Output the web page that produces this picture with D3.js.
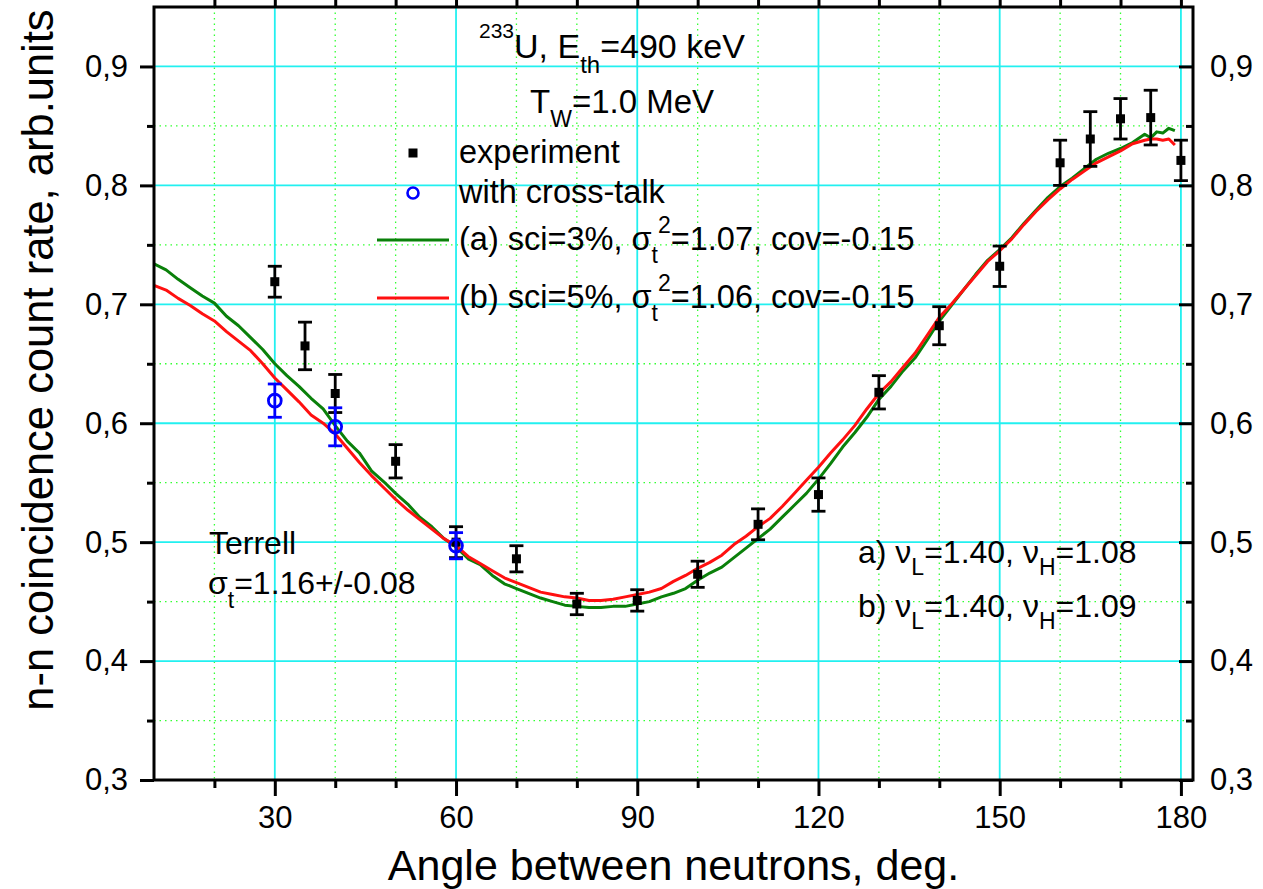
<!DOCTYPE html>
<html>
<head>
<meta charset="utf-8">
<script src="https://cdn.jsdelivr.net/npm/d3@7"></script>
<style>
  html, body { margin: 0; padding: 0; background: #fff; }
  svg { display: block; font-family: "Liberation Sans", Arial, sans-serif; }
</style>
</head>
<body>
<svg id="chart" width="1263" height="889"></svg>
<script>
// Measured n-n coincidence rates (black squares)
const expAngles = [30, 35, 40, 50, 60, 70, 80, 90, 100, 110, 120, 130, 140, 150, 160, 165, 170, 175, 180];
const expValues = [0.719, 0.665, 0.625, 0.568, 0.500, 0.486, 0.448, 0.451, 0.473, 0.515, 0.540, 0.626, 0.682, 0.732, 0.819, 0.839, 0.856, 0.857, 0.821];
const expErrors = [0.013, 0.020, 0.016, 0.014, 0.013, 0.011, 0.009, 0.009, 0.011, 0.013, 0.014, 0.014, 0.016, 0.017, 0.019, 0.023, 0.017, 0.023, 0.017];

// Points corrected for cross-talk (blue circles)
const ctAngles = [30, 40, 60];
const ctValues = [0.619, 0.597, 0.497];
const ctErrors = [0.014, 0.016, 0.011];

// Simulated curves: angle grid and the two model results
const simAngles = [10, 12, 14, 16, 18, 20, 22, 24, 26, 28, 30, 32, 34, 36, 38, 40, 42, 44, 46, 48,
  50, 52, 54, 56, 58, 60, 62, 64, 66, 68, 70, 72, 74, 76, 78, 80, 82, 84, 86, 88,
  90, 92, 94, 96, 98, 100, 102, 104, 106, 108, 110, 112, 114, 116, 118, 120, 122, 124, 126, 128,
  130, 132, 134, 136, 138, 140, 142, 144, 146, 148, 150, 152, 154, 156, 158, 160, 162, 164, 166, 168,
  170, 172, 174, 175, 176, 177, 178, 179];
const simA = [0.734, 0.729, 0.721, 0.714, 0.707, 0.701, 0.690, 0.682, 0.672, 0.662, 0.650, 0.640, 0.631, 0.621, 0.612, 0.598, 0.585, 0.575, 0.560, 0.551,
  0.541, 0.532, 0.521, 0.513, 0.503, 0.496, 0.486, 0.481, 0.472, 0.465, 0.461, 0.457, 0.453, 0.450, 0.447, 0.446, 0.445, 0.445, 0.446, 0.446,
  0.448, 0.450, 0.454, 0.457, 0.461, 0.468, 0.474, 0.479, 0.487, 0.495, 0.503, 0.511, 0.521, 0.531, 0.541, 0.553, 0.566, 0.580, 0.592, 0.605,
  0.620, 0.631, 0.644, 0.655, 0.670, 0.686, 0.699, 0.712, 0.725, 0.737, 0.746, 0.756, 0.768, 0.779, 0.790, 0.799, 0.806, 0.814, 0.822, 0.827,
  0.831, 0.836, 0.843, 0.840, 0.845, 0.844, 0.848, 0.846];
const simB = [0.716, 0.712, 0.705, 0.699, 0.692, 0.686, 0.677, 0.669, 0.661, 0.650, 0.638, 0.628, 0.618, 0.607, 0.600, 0.591, 0.579, 0.567, 0.556, 0.546,
  0.536, 0.527, 0.519, 0.511, 0.503, 0.497, 0.488, 0.482, 0.476, 0.470, 0.466, 0.462, 0.458, 0.456, 0.454, 0.453, 0.451, 0.451, 0.452, 0.454,
  0.456, 0.458, 0.461, 0.467, 0.472, 0.478, 0.483, 0.489, 0.498, 0.505, 0.513, 0.520, 0.530, 0.541, 0.552, 0.563, 0.575, 0.586, 0.598, 0.612,
  0.625, 0.635, 0.647, 0.659, 0.674, 0.689, 0.700, 0.712, 0.724, 0.736, 0.745, 0.755, 0.767, 0.778, 0.788, 0.797, 0.805, 0.812, 0.819, 0.824,
  0.829, 0.835, 0.838, 0.839, 0.839, 0.838, 0.839, 0.834];

// Axis ticks
const xMajor = [30, 60, 90, 120, 150, 180];
const xMinor = [20, 40, 50, 70, 80, 100, 110, 130, 140, 160, 170];
const yMajor = [0.3, 0.4, 0.5, 0.6, 0.7, 0.8, 0.9];
const yMinor = [0.35, 0.45, 0.55, 0.65, 0.75, 0.85];
const yTickLabels = ["0,3", "0,4", "0,5", "0,6", "0,7", "0,8", "0,9"];

const svg = d3.select("#chart");
const L = 154, R = 1193, T = 7, B = 780;

const x = d3.scaleLinear().domain([10, 182]).range([L, R]);
const y = d3.scaleLinear().domain([0.3, 0.95]).range([B, T]);

svg.append("rect").attr("width", 1263).attr("height", 889).attr("fill", "#fff");

svg.append("defs").append("clipPath").attr("id", "plotclip")
  .append("rect").attr("x", L).attr("y", T).attr("width", R - L).attr("height", B - T);

// Grid: dotted minor lines, then solid major lines
const grid = svg.append("g");
grid.selectAll(".gxm").data(xMinor).join("line")
  .attr("x1", d => x(d)).attr("x2", d => x(d)).attr("y1", T).attr("y2", B)
  .attr("stroke", "#33ff33").attr("stroke-width", 1.3).attr("stroke-dasharray", "1.5,4");
grid.selectAll(".gym").data(yMinor).join("line")
  .attr("x1", L).attr("x2", R).attr("y1", d => y(d)).attr("y2", d => y(d))
  .attr("stroke", "#33ff33").attr("stroke-width", 1.3).attr("stroke-dasharray", "1.5,4");
grid.selectAll(".gxM").data(xMajor).join("line")
  .attr("x1", d => x(d)).attr("x2", d => x(d)).attr("y1", T).attr("y2", B)
  .attr("stroke", "#22f0f0").attr("stroke-width", 1.8);
grid.selectAll(".gyM").data(yMajor.filter(v => v > 0.3)).join("line")
  .attr("x1", L).attr("x2", R).attr("y1", d => y(d)).attr("y2", d => y(d))
  .attr("stroke", "#22f0f0").attr("stroke-width", 1.8);

// Model curves
const curves = svg.append("g").attr("clip-path", "url(#plotclip)");
const lineOf = vals => d3.line().x((d, i) => x(simAngles[i])).y((d, i) => y(vals[i]))(vals);
curves.append("path").attr("d", lineOf(simA)).attr("fill", "none")
  .attr("stroke", "#0a800a").attr("stroke-width", 3).attr("stroke-linejoin", "round");
curves.append("path").attr("d", lineOf(simB)).attr("fill", "none")
  .attr("stroke", "#ff1010").attr("stroke-width", 3).attr("stroke-linejoin", "round");

// Error bars helper
function errorBars(g, xs, vs, es, color) {
  xs.forEach((a, i) => {
    const cx = x(a), y1 = y(vs[i] + es[i]), y2 = y(vs[i] - es[i]);
    g.append("line").attr("x1", cx).attr("x2", cx).attr("y1", y1).attr("y2", y2)
      .attr("stroke", color).attr("stroke-width", 2.8);
    [y1, y2].forEach(yy => g.append("line").attr("x1", cx - 7).attr("x2", cx + 7)
      .attr("y1", yy).attr("y2", yy).attr("stroke", color).attr("stroke-width", 2.8));
  });
}

const pts = svg.append("g");
errorBars(pts, expAngles, expValues, expErrors, "#000");
pts.selectAll(".sq").data(expAngles).join("rect")
  .attr("x", (d) => x(d) - 4.5).attr("y", (d, i) => y(expValues[i]) - 4.5)
  .attr("width", 9).attr("height", 9).attr("fill", "#000");

errorBars(pts, ctAngles, ctValues, ctErrors, "#0000ff");
pts.selectAll(".ci").data(ctAngles).join("circle")
  .attr("cx", d => x(d)).attr("cy", (d, i) => y(ctValues[i])).attr("r", 6.4)
  .attr("fill", "none").attr("stroke", "#0000ff").attr("stroke-width", 2.8);

// Axes frame and ticks
const axes = svg.append("g").attr("stroke", "#000").attr("stroke-width", 3);
axes.append("rect").attr("x", L).attr("y", T).attr("width", R - L).attr("height", B - T).attr("fill", "none");

const xAxisB = d3.axisBottom(x).tickValues(xMajor).tickSize(16).tickFormat(d3.format("d")).tickPadding(10);
const gx = svg.append("g").attr("transform", `translate(0,${B})`).call(xAxisB);
gx.select(".domain").remove();
gx.selectAll(".tick line").attr("stroke-width", 3);
gx.selectAll(".tick text").attr("font-size", 31).attr("fill", "#000").attr("font-family", "Liberation Sans, Arial, sans-serif");
svg.append("g").attr("transform", `translate(0,${B})`)
  .call(d3.axisBottom(x).tickValues(xMinor).tickSize(8).tickFormat(""))
  .call(g => g.select(".domain").remove())
  .selectAll(".tick line").attr("stroke-width", 3);
// Top ticks
svg.append("g").attr("transform", `translate(0,${T})`)
  .call(d3.axisTop(x).tickValues(xMajor.concat(xMinor)).tickSize(7).tickFormat(""))
  .call(g => g.select(".domain").remove())
  .selectAll(".tick line").attr("stroke-width", 3);

const fmtY = d => yTickLabels[yMajor.findIndex(v => Math.abs(v - d) < 1e-9)];
const gyL = svg.append("g").attr("transform", `translate(${L},0)`)
  .call(d3.axisLeft(y).tickValues(yMajor).tickSize(14).tickPadding(12).tickFormat(fmtY));
gyL.select(".domain").remove();
gyL.selectAll(".tick line").attr("stroke-width", 3);
gyL.selectAll(".tick text").attr("font-size", 31).attr("fill", "#000").attr("font-family", "Liberation Sans, Arial, sans-serif");
svg.append("g").attr("transform", `translate(${L},0)`)
  .call(d3.axisLeft(y).tickValues(yMinor).tickSize(7).tickFormat(""))
  .call(g => g.select(".domain").remove())
  .selectAll(".tick line").attr("stroke-width", 3);

// Right axis: ticks point inward, labels outside
const gyR = svg.append("g").attr("transform", `translate(${R},0)`)
  .call(d3.axisRight(y).tickValues(yMajor).tickSize(-14).tickPadding(17).tickFormat(fmtY));
gyR.select(".domain").remove();
gyR.selectAll(".tick line").attr("stroke-width", 3);
gyR.selectAll(".tick text").attr("font-size", 31).attr("fill", "#000").attr("font-family", "Liberation Sans, Arial, sans-serif");
svg.append("g").attr("transform", `translate(${R},0)`)
  .call(d3.axisRight(y).tickValues(yMinor).tickSize(-7).tickFormat(""))
  .call(g => g.select(".domain").remove())
  .selectAll(".tick line").attr("stroke-width", 3);

// Axis titles
svg.append("text").attr("x", (L + R) / 2).attr("y", 880).attr("text-anchor", "middle")
  .attr("font-size", 43).attr("fill", "#000").text("Angle between neutrons, deg.");
svg.append("text").attr("transform", `translate(53,360) rotate(-90)`).attr("text-anchor", "middle")
  .attr("font-size", 43.5).attr("fill", "#000").text("n-n coincidence count rate, arb.units");

// Rich text with sub/superscripts
function rich(x0, y0, parts, size) {
  const t = svg.append("text").attr("x", x0).attr("y", y0).attr("font-size", size).attr("fill", "#000");
  let cur = 0;
  parts.forEach(p => {
    const target = p.sub ? p.sub : (p.sup ? -p.sup : 0);
    const span = t.append("tspan").attr("dy", target - cur).text(p.t);
    if (p.sub || p.sup) span.attr("font-size", p.size || 23);
    cur = target;
  });
  return t;
}

rich(479, 58, [{ t: "233", sup: 20, size: 21 }, { t: "U, E" }, { t: "th", sub: 15, size: 24 }, { t: "=490 keV" }], 34);
rich(530, 113, [{ t: "T" }, { t: "W", sub: 14, size: 23 }, { t: "=1.0 MeV" }], 33);

// Legend
const leg = svg.append("g");
leg.append("rect").attr("x", 413 - 4.5).attr("y", 153 - 4.5).attr("width", 9).attr("height", 9).attr("fill", "#000");
leg.append("circle").attr("cx", 413).attr("cy", 193).attr("r", 5.5).attr("fill", "none")
  .attr("stroke", "#0000ff").attr("stroke-width", 2.6);
leg.append("line").attr("x1", 377).attr("x2", 449).attr("y1", 240).attr("y2", 240)
  .attr("stroke", "#0a800a").attr("stroke-width", 3);
leg.append("line").attr("x1", 377).attr("x2", 449).attr("y1", 298).attr("y2", 298)
  .attr("stroke", "#ff1010").attr("stroke-width", 3);
rich(459, 163, [{ t: "experiment" }], 32.5);
rich(459, 203, [{ t: "with cross-talk" }], 32.5);
rich(459, 250, [{ t: "(a) sci=3%, σ" }, { t: "t", sub: 13 }, { t: "2", sup: 17 }, { t: "=1.07, cov=-0.15" }], 32.5);
rich(459, 308, [{ t: "(b) sci=5%, σ" }, { t: "t", sub: 13 }, { t: "2", sup: 17 }, { t: "=1.06, cov=-0.15" }], 32.5);

// Annotations
rich(209, 554, [{ t: "Terrell" }], 32);
rich(208, 594, [{ t: "σ" }, { t: "t", sub: 14 }, { t: "=1.16+/-0.08" }], 32);
rich(858, 563, [{ t: "a) ν" }, { t: "L", sub: 12 }, { t: "=1.40, ν" }, { t: "H", sub: 12 }, { t: "=1.08" }], 32);
rich(858, 617, [{ t: "b) ν" }, { t: "L", sub: 12 }, { t: "=1.40, ν" }, { t: "H", sub: 12 }, { t: "=1.09" }], 32);
</script>
</body>
</html>
